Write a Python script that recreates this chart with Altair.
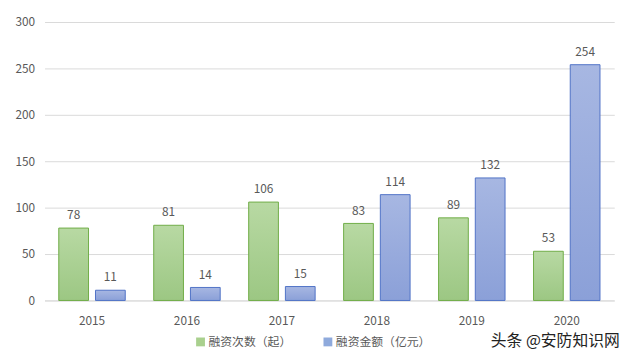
import altair as alt
import pandas as pd

years = ["2015", "2016", "2017", "2018", "2019", "2020"]
series = ["融资次数（起）", "融资金额（亿元）"]
counts = [78, 81, 106, 83, 89, 53]
amounts = [11, 14, 15, 114, 132, 254]
y_ticks = [0, 50, 100, 150, 200, 250, 300]

rows = []
for i, yr in enumerate(years):
    rows.append({"year": yr, "series": series[0], "value": counts[i]})
    rows.append({"year": yr, "series": series[1], "value": amounts[i]})
df = pd.DataFrame(rows)

FONT = "Noto Sans CJK SC"
TXT = "#595959"

x_enc = alt.X("year:N", sort=years, title=None,
              scale=alt.Scale(paddingInner=0.3, paddingOuter=0.15),
              axis=alt.Axis(labelAngle=0, ticks=False, domainColor="#d9d9d9",
                            labelColor=TXT, labelFontSize=12, labelPadding=15,
                            labelFont=FONT))
xoff = alt.XOffset("series:N", sort=series,
                   scale=alt.Scale(domain=series, paddingInner=0.19, paddingOuter=0))
y_enc = alt.Y("value:Q", title=None,
              scale=alt.Scale(domain=[0, 300], nice=False),
              axis=alt.Axis(values=y_ticks, ticks=False, domain=False,
                            gridColor="#d9d9d9", labelColor=TXT, labelFontSize=12,
                            labelPadding=10, labelFont=FONT))

green_grad = {"gradient": "linear", "x1": 0, "y1": 0, "x2": 0, "y2": 1,
              "stops": [{"offset": 0, "color": "#b8d9a3"}, {"offset": 1, "color": "#9cc783"}]}
blue_grad = {"gradient": "linear", "x1": 0, "y1": 0, "x2": 0, "y2": 1,
             "stops": [{"offset": 0, "color": "#a7b7e2"}, {"offset": 1, "color": "#8ba0d8"}]}

base = alt.Chart(df)

legend_layer = base.mark_bar(opacity=0).encode(
    x=x_enc, xOffset=xoff, y=y_enc,
    color=alt.Color("series:N", sort=series,
                    scale=alt.Scale(domain=series, range=["#a9d08e", "#8faadc"]),
                    legend=alt.Legend(title=None, orient="none", direction="horizontal",
                                      legendX=152, legendY=318, symbolType="square",
                                      symbolSize=80, symbolOpacity=1,
                                      symbolStrokeWidth=1, labelFontSize=12,
                                      labelColor=TXT, labelFont=FONT, columnPadding=30,
                                      labelOffset=2))
)

green_bars = base.transform_filter(alt.datum.series == series[0]).mark_bar(
    fill=green_grad, stroke="#70ad47", strokeWidth=1
).encode(x=x_enc, xOffset=xoff, y=y_enc)

blue_bars = base.transform_filter(alt.datum.series == series[1]).mark_bar(
    fill=blue_grad, stroke="#4f72c6", strokeWidth=1
).encode(x=x_enc, xOffset=xoff, y=y_enc)

labels = base.mark_text(baseline="alphabetic", dy=-9, fontSize=12, color=TXT, font=FONT).encode(
    x=x_enc, xOffset=xoff, y=y_enc, text="value:Q"
)

watermark = alt.Chart(pd.DataFrame({"t": ["头条 @安防知识网"]})).mark_text(
    align="left", baseline="middle", fontSize=16, color="#222222", font=FONT
).encode(x=alt.value(452), y=alt.value(323), text="t:N")

chart = alt.layer(legend_layer, green_bars, blue_bars, labels, watermark).properties(
    width=577, height=282,
    autosize=alt.AutoSizeParams(type="none"),
    padding={"left": 37, "top": 12, "right": 18, "bottom": 50},
).configure_view(stroke=None)

chart.save("out.html", embed_options={"renderer": "svg", "actions": False})
